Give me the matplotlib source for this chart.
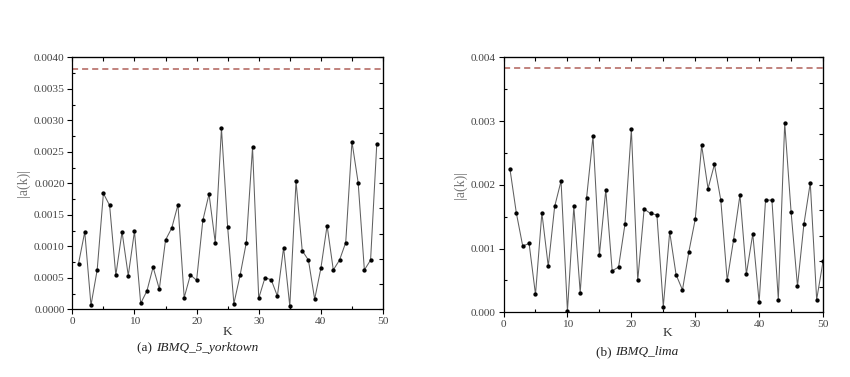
import numpy as np
import matplotlib
matplotlib.use("Agg")
import matplotlib.pyplot as plt
from matplotlib.ticker import MultipleLocator, FormatStrFormatter

# ---- data ----
k_a = list(range(1, 50))
a_yorktown = [0.000726, 0.00123, 0.000064, 0.000625, 0.00184, 0.00165, 0.00054, 0.00123, 0.000535, 0.00124,
              0.000095, 0.00029, 0.00067, 0.00032, 0.0011, 0.00129, 0.00166, 0.000185, 0.000545, 0.00046,
              0.00141, 0.00183, 0.00106, 0.00287, 0.0013, 0.00009, 0.00054, 0.00106, 0.00257, 0.000175,
              0.0005, 0.00047, 0.00021, 0.00098, 0.00005, 0.00203, 0.00093, 0.00078, 0.00016, 0.00065,
              0.00133, 0.000625, 0.00078, 0.00106, 0.00266, 0.00201, 0.000625, 0.00078, 0.00263]
k_b = list(range(1, 51))
a_lima = [0.00225, 0.00156, 0.00104, 0.00108, 0.00028, 0.00156, 0.00072, 0.00166, 0.00206, 0.00002,
          0.00166, 0.00031, 0.0018, 0.00276, 0.0009, 0.00192, 0.00065, 0.00071, 0.00138, 0.00287,
          0.0005, 0.00162, 0.00155, 0.00153, 0.00009, 0.00126, 0.00059, 0.00035, 0.00095, 0.00146,
          0.00262, 0.00194, 0.00232, 0.00176, 0.0005, 0.00114, 0.00184, 0.0006, 0.00123, 0.00016,
          0.00176, 0.00176, 0.0002, 0.00297, 0.00157, 0.00041, 0.00138, 0.00203, 0.0002, 0.0008]
bound_a = 0.00382
bound_b = 0.00383
captions = [("(a) ", "IBMQ_5_yorktown"), ("(b) ", "IBMQ_lima")]
ylabel = "|a(k)|"
xlabel = "K"

SERIF = ["Liberation Serif", "DejaVu Serif"]
fig = plt.figure(figsize=(8.5, 3.77), dpi=100)

def panel(rect, k, vals, bound, ymajor, yfmt, caption, capx, capy, xlab_x, xlab_y):
    ax = fig.add_axes(rect)
    ax.plot(k, vals, color="#606060", lw=0.75, marker="o", ms=2.1,
            mfc="black", mec="black", zorder=3)
    ax.axhline(bound, color="#b0605a", lw=1.1, ls=(0, (4, 2.6)), zorder=2)
    ax.set_xlim(0, 50)
    ax.set_ylim(0, 0.004)
    ax.xaxis.set_major_locator(MultipleLocator(10))
    ax.xaxis.set_minor_locator(MultipleLocator(5))
    ax.yaxis.set_major_locator(MultipleLocator(ymajor))
    ax.yaxis.set_minor_locator(MultipleLocator(ymajor / 2))
    ax.yaxis.set_major_formatter(FormatStrFormatter(yfmt))
    ax.tick_params(which="major", direction="out", length=3.5, width=0.8,
                   labelsize=8.2, colors="black", labelcolor="#444444", pad=2)
    ax.tick_params(which="minor", direction="in", length=2.5, width=0.8)
    for lab in ax.get_xticklabels() + ax.get_yticklabels():
        lab.set_family(SERIF)
    for s in ax.spines.values():
        s.set_linewidth(0.9)
    # top ticks every 5, inward
    top = ax.secondary_xaxis("top")
    top.set_xticks(np.arange(0, 51, 5))
    top.tick_params(direction="in", length=3, width=0.8, labeltop=False)
    top.set_xticklabels([])
    # right ticks every 0.0004, inward
    right = ax.secondary_yaxis("right")
    right.set_yticks(np.arange(0, 0.00401, 0.0004))
    right.tick_params(direction="in", length=3, width=0.8, labelright=False)
    right.set_yticklabels([])
    ax.set_ylabel(ylabel, family=SERIF, fontsize=10, color="#777777", labelpad=3)
    fig.text(xlab_x, xlab_y, xlabel, family=SERIF, fontsize=9.5, ha="center", va="center", color="#333333")
    fig.text(capx, capy, caption[0], family=SERIF, fontsize=9.5, ha="right", va="center", color="#222222")
    fig.text(capx, capy, caption[1], family=SERIF, fontsize=9.5, ha="left", va="center",
             style="italic", color="#222222")
    return ax

panel([0.0851, 0.1796, 0.3655, 0.6684], k_a, a_yorktown, bound_a, 0.0005, "%.4f",
      captions[0], 0.183, 0.076, 0.268, 0.12)
panel([0.5924, 0.1716, 0.3759, 0.6764], k_b, a_lima, bound_b, 0.001, "%.3f",
      captions[1], 0.724, 0.066, 0.785, 0.117)

fig.savefig("out.png", dpi=100)
